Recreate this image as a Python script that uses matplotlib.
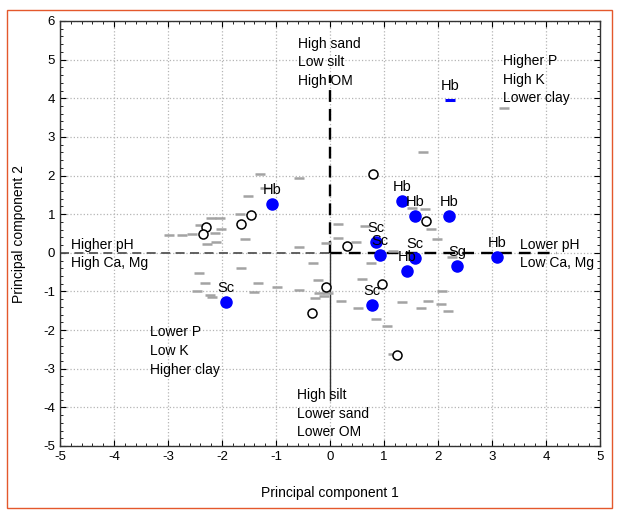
import numpy as np
import matplotlib
matplotlib.use("Agg")
import matplotlib.pyplot as plt
from matplotlib.patches import Rectangle
from matplotlib.ticker import MultipleLocator

plt.rcParams['font.family'] = ['Liberation Sans', 'DejaVu Sans']
plt.rcParams['axes.unicode_minus'] = False

# labelled sites (filled blue)
blue_x = [-1.07, -1.93, 1.33, 1.57, 2.20, 0.85, 0.93, 1.57, 1.42, 2.36, 3.09, 0.77]
blue_y = [1.27, -1.27, 1.35, 0.96, 0.96, 0.27, -0.05, -0.14, -0.46, -0.35, -0.10, -1.34]
blue_lbl = ['Hb', 'Sc', 'Hb', 'Hb', 'Hb', 'Sc', 'Sc', 'Sc', 'Hb', 'Sg', 'Hb', 'Sc']
# the Hb point drawn as a blue dash at the top
top_x, top_y, top_lbl = 2.22, 3.96, 'Hb'

# open circles
open_x = [-1.47, -1.65, -2.30, -2.36, 0.79, 1.77, 0.32, -0.07, 0.96, -0.33, 1.24]
open_y = [0.97, 0.75, 0.66, 0.49, 2.05, 0.82, 0.18, -0.88, -0.82, -1.57, -2.64]

# grey dash markers
dash_x = [-1.30, -0.58, -1.20, -1.52, -1.67, -2.20, -2.04, -2.41, -2.01, -2.98,
          -2.75, -2.56, -2.13, -2.28, -2.11, -1.58, -0.58, -2.42, -1.64, -2.31,
          -1.33, -0.98, -2.47, -2.22, -2.19, -1.40, -0.57,
          1.73, 1.51, 1.75, 1.87, 1.99, 0.14, 0.65, 0.15, -0.07, 0.48, 1.17,
          2.25, 3.23,
          -0.31, 0.76, -0.23, 0.60, -0.20, -0.03, -0.27, -0.11, 0.20, 0.52,
          0.85, 1.05, 1.34, 1.68, 1.82, 2.07, 2.06, 2.18, 1.17]
dash_y = [2.05, 1.93, 1.68, 1.46, 1.00, 0.89, 0.91, 0.71, 0.61, 0.45,
          0.45, 0.48, 0.51, 0.24, 0.28, 0.36, 0.16, -0.53, -0.40, -0.79,
          -0.79, -0.89, -0.98, -1.08, -1.14, -1.02, -0.95,
          2.60, 1.17, 1.13, 0.61, 0.35, 0.74, 0.70, 0.38, 0.25, 0.28, 0.05,
          -0.10, 3.74,
          -0.27, -0.27, -0.70, -0.67, -1.03, -1.04, -1.18, -1.13, -1.24, -1.44,
          -1.71, -1.90, -1.28, -1.42, -1.25, -0.98, -1.33, -1.51, -2.62]

# axis interpretation texts: (x, y of first line centre, text)
notes = [
    (-0.60, 5.42, "High sand\nLow silt\nHigh OM"),
    (3.21, 4.97, "Higher P\nHigh K\nLower clay"),
    (-4.80, 0.22, "Higher pH\nHigh Ca, Mg"),
    (3.51, 0.22, "Lower pH\nLow Ca, Mg"),
    (-3.34, -2.05, "Lower P\nLow K\nHigher clay"),
    (-0.61, -3.67, "High silt\nLower sand\nLower OM"),
]

fig = plt.figure(figsize=(6.23, 5.11), dpi=100)
ax = fig.add_axes([60 / 623, 1 - 446 / 511, 540 / 623, 425 / 511])

# frame around the whole figure
fig.patches.append(Rectangle((7 / 623, 3 / 511), 605 / 623, 498 / 511,
                             transform=fig.transFigure, fill=False,
                             edgecolor='#e4582c', linewidth=1.0))

ax.set_xlim(-5, 5)
ax.set_ylim(-5, 6)
ax.xaxis.set_major_locator(MultipleLocator(1))
ax.yaxis.set_major_locator(MultipleLocator(1))
ax.xaxis.set_minor_locator(MultipleLocator(0.2))
ax.yaxis.set_minor_locator(MultipleLocator(0.2))
ax.tick_params(which='both', direction='in', top=True, right=True, labelsize=9.5)
ax.tick_params(which='major', length=4, width=0.8)
ax.tick_params(which='minor', length=2, width=0.6)
ax.grid(True, which='major', linestyle=':', color='#b5b5b5', linewidth=0.9)
ax.set_axisbelow(True)
for s in ax.spines.values():
    s.set_linewidth(1.0)
    s.set_color('#333333')

# reference axes through the origin
ax.plot([-5, 0], [0, 0], ls=(0, (5, 3)), color='#555555', lw=1.3, zorder=2)
ax.plot([0, 4.2], [0, 0], ls=(0, (5, 3)), color='black', lw=1.7, zorder=2)
ax.plot([0, 0], [0, 4.6], ls=(0, (5, 3)), color='black', lw=1.7, zorder=2)
ax.plot([0, 0], [0, -3.8], ls='-', color='#333333', lw=1.0, zorder=2)

ax.plot(dash_x, dash_y, ls='none', marker='_', ms=7, mew=1.8, color='#a3a3a3', zorder=3)
ax.plot(open_x, open_y, ls='none', marker='o', ms=6.5, mfc='white', mec='black', mew=1.1, zorder=4)
ax.plot(blue_x, blue_y, ls='none', marker='o', ms=8, mfc='#0000ff', mec='#0000ff', zorder=5)
ax.plot([top_x], [top_y], ls='none', marker='_', ms=7, mew=2.2, color='#0000ff', zorder=5)

for x, y, t in zip(blue_x + [top_x], blue_y + [top_y], blue_lbl + [top_lbl]):
    ax.annotate(t, (x, y), xytext=(0, 5), textcoords='offset points',
                ha='center', va='bottom', fontsize=10.5, zorder=6)

for x, y, t in notes:
    ax.text(x, y + 0.17, t, ha='left', va='top', fontsize=10, linespacing=1.42, zorder=6)

ax.set_xlabel('Principal component 1', fontsize=10, labelpad=17)
ax.set_ylabel('Principal component 2', fontsize=10, labelpad=12)

fig.savefig('out.png', dpi=100)
